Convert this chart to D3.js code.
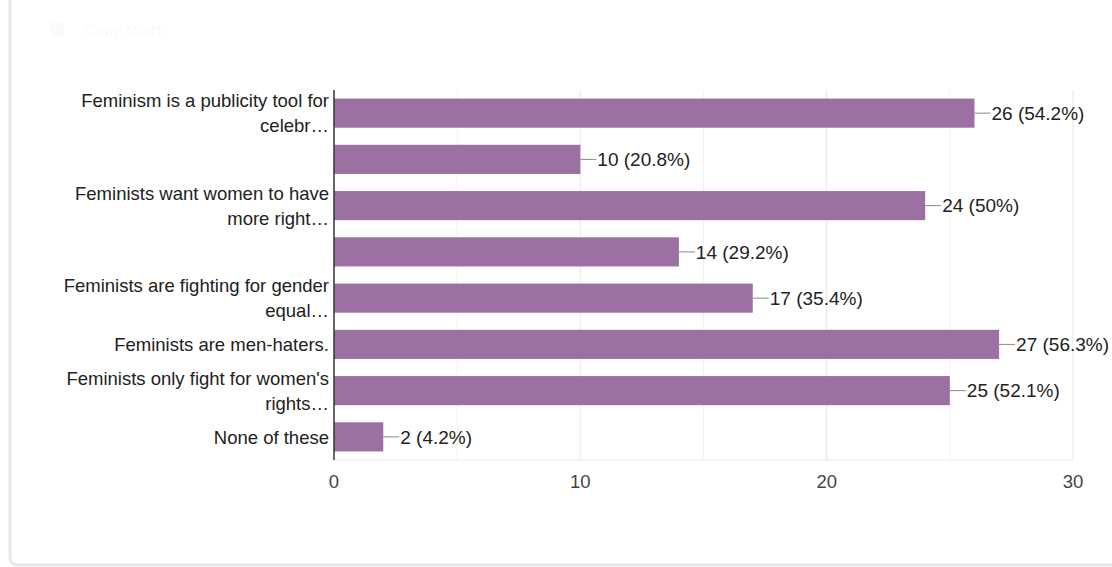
<!DOCTYPE html>
<html>
<head>
<meta charset="utf-8">
<script src="https://cdn.jsdelivr.net/npm/d3@7"></script>
<style>
  html, body { margin: 0; padding: 0; background: #fff; }
  svg { display: block; font-family: "Liberation Sans", Arial, Helvetica, sans-serif; }
</style>
</head>
<body>
<svg id="chart" width="1112" height="567"></svg>
<script>
// Answer options (each entry is the wrapped lines of the label; blank rows have no label)
const categories = [
  ["Feminism is a publicity tool for", "celebr…"],
  [],
  ["Feminists want women to have", "more right…"],
  [],
  ["Feminists are fighting for gender", "equal…"],
  ["Feminists are men-haters."],
  ["Feminists only fight for women's", "rights…"],
  ["None of these"]
];
const counts = [26, 10, 24, 14, 17, 27, 25, 2];
const percents = ["54.2%", "20.8%", "50%", "29.2%", "35.4%", "56.3%", "52.1%", "4.2%"];
const xTicks = [0, 10, 20, 30];
const gridTicks = [5, 10, 15, 20, 25, 30];

const svg = d3.select("#chart");

// card outline
svg.append("path")
  .attr("d", "M10,0 L10,557 Q10,565 18,565 L1112,565")
  .attr("fill", "none")
  .attr("stroke", "#e8e6ec")
  .attr("stroke-width", 3);

// faint copy control in the card header
const copy = svg.append("g").attr("fill", "#fafafa");
copy.append("rect").attr("x", 50).attr("y", 22).attr("width", 14).attr("height", 14).attr("rx", 2);
copy.append("text").attr("x", 84).attr("y", 36).attr("font-size", 16).text("Copy chart");

const margin = { left: 334, right: 1073, top: 90, bottom: 460 };

const x = d3.scaleLinear().domain([0, 30]).range([margin.left, margin.right]);
const y = d3.scaleBand()
  .domain(d3.range(categories.length))
  .range([margin.top, margin.bottom])
  .paddingInner(0.37)
  .paddingOuter(0.185);

// vertical gridlines
svg.append("g")
  .selectAll("line")
  .data(gridTicks)
  .join("line")
  .attr("x1", d => x(d)).attr("x2", d => x(d))
  .attr("y1", margin.top).attr("y2", margin.bottom)
  .attr("stroke", d => d % 10 === 0 ? "#e6e6e6" : "#f1f1f1")
  .attr("stroke-width", 1);

// bottom baseline
svg.append("line")
  .attr("x1", margin.left).attr("x2", margin.right)
  .attr("y1", margin.bottom).attr("y2", margin.bottom)
  .attr("stroke", "#e6e6e6");

// bars
svg.append("g")
  .selectAll("rect")
  .data(counts)
  .join("rect")
  .attr("x", x(0))
  .attr("y", (d, i) => y(i))
  .attr("width", d => x(d) - x(0))
  .attr("height", y.bandwidth())
  .attr("fill", "#9d70a4");

// value leaders and labels
const vals = svg.append("g")
  .selectAll("g")
  .data(counts)
  .join("g")
  .attr("transform", (d, i) => `translate(${x(d)},${y(i) + y.bandwidth() / 2})`);
vals.append("line")
  .attr("x1", 0).attr("x2", 16)
  .attr("y1", 0).attr("y2", 0)
  .attr("stroke", "#888").attr("stroke-width", 1);
vals.append("text")
  .attr("x", 17)
  .attr("dy", "0.36em")
  .attr("font-size", 19)
  .attr("fill", "#222")
  .text((d, i) => `${d} (${percents[i]})`);

// category labels
const labelSize = 18.5;
const labels = svg.append("g")
  .selectAll("text")
  .data(categories)
  .join("text")
  .attr("text-anchor", "end")
  .attr("font-size", labelSize)
  .attr("fill", "#222")
  .attr("x", margin.left - 5)
  .attr("y", (d, i) => y(i) + y.bandwidth() / 2);
labels.each(function(lines) {
  const t = d3.select(this);
  const lh = 25;
  const start = -(lines.length - 1) * lh / 2;
  lines.forEach((ln, k) => {
    t.append("tspan")
      .attr("x", margin.left - 5)
      .attr("dy", k === 0 ? `${start / labelSize + 0.36}em` : `${lh}px`)
      .text(ln);
  });
});

// left axis line
svg.append("line")
  .attr("x1", margin.left).attr("x2", margin.left)
  .attr("y1", margin.top).attr("y2", margin.bottom)
  .attr("stroke", "#333").attr("stroke-width", 1.5);

// x tick labels
svg.append("g")
  .selectAll("text")
  .data(xTicks)
  .join("text")
  .attr("x", d => x(d))
  .attr("y", 488)
  .attr("text-anchor", "middle")
  .attr("font-size", 18.5)
  .attr("fill", "#444")
  .text(d => d);
</script>
</body>
</html>
